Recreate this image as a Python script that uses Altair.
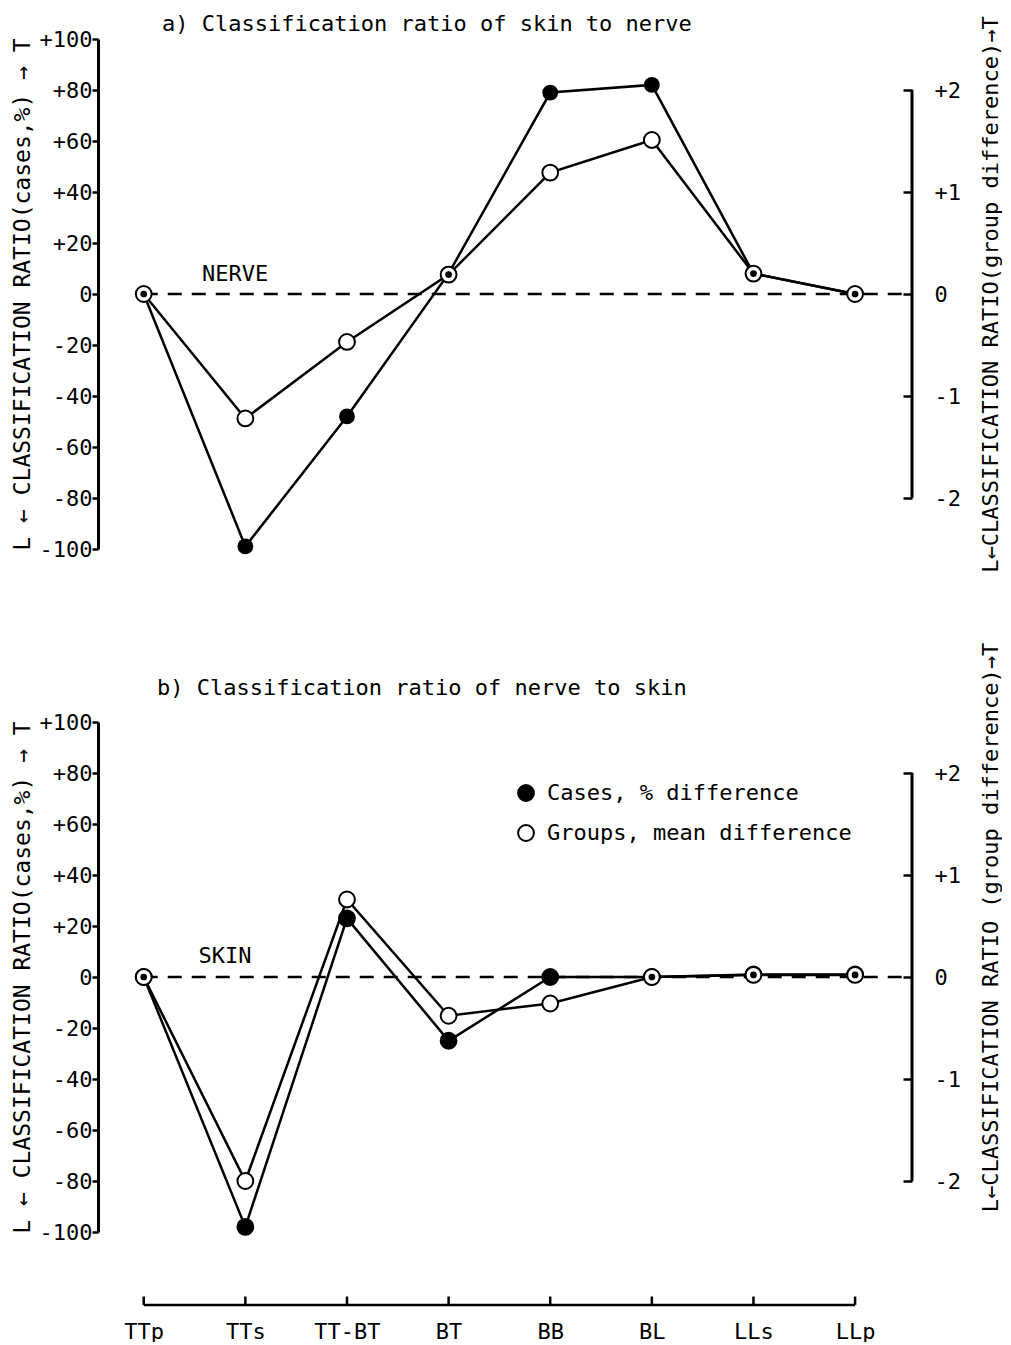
import altair as alt
import pandas as pd

# ---------------- data ----------------
categories = ["TTp", "TTs", "TT-BT", "BT", "BB", "BL", "LLs", "LLp"]

# panel a) skin to nerve
a_cases = [0, -99, -48, 8, 79, 82, 8, 0]              # % (left axis)
a_groups = [0, -1.22, -0.47, 0.19, 1.19, 1.51, 0.2, 0]  # group difference (right axis)

# panel b) nerve to skin
b_cases = [0, -98, 23, -25, 0, 0, 1, 1]
b_groups = [0, -2.0, 0.76, -0.38, -0.26, 0, 0.02, 0.02]

left_ticks = list(range(-100, 101, 20))
right_ticks = [-2, -1, 0, 1, 2]
series_names = ["Cases, % difference", "Groups, mean difference"]

# ---------------- styling ----------------
FONT = "DejaVu Sans Mono"
FS = 22
W, H = 814, 510
XMIN, XMAX = -0.45, 7.56
RATIO = 40  # percent per unit of group difference (left/right axis link)
SIGNED = "datum.value > 0 ? '+' + datum.value : (datum.value < 0 ? '-' + abs(datum.value) : '0')"
LABELS_JS = "[" + ",".join("'" + c + "'" for c in categories) + "]"
NOFRAME = alt.ViewBackground(stroke="transparent", strokeWidth=0, strokeOpacity=0)


def panel(cases, groups, title_text, title_x, title_y, ref_text, ref_x, ref_y,
          right_title, right_title_y=None, bottom=False, legend=False):
    df = pd.DataFrame({"i": list(range(len(categories))), "cases": cases, "groups": groups})
    df["coinc"] = (df["cases"] - df["groups"] * RATIO).abs() < 3
    base = alt.Chart(df)
    one = alt.Chart(pd.DataFrame({"k": [0]}))

    xs = alt.Scale(domain=[XMIN, XMAX], nice=False, zero=False)
    if bottom:
        xaxis = alt.Axis(values=list(range(len(categories))),
                         labelExpr=LABELS_JS + "[datum.value]",
                         domain=False, ticks=False, grid=False,
                         labelFont=FONT, labelFontSize=FS, labelColor="black",
                         labelPadding=0, offset=89, title=None,
                         labelFlush=False, labelOverlap=False)
    else:
        xaxis = None
    X = alt.X("i:Q", scale=xs, axis=xaxis)

    def XD(v):
        return alt.XDatum(v, type="quantitative", scale=xs, axis=xaxis)

    # left (cases, %) scale and axis
    yl = alt.Scale(domain=[-100, 100], nice=False, zero=False)
    laxis = alt.Axis(values=left_ticks, labelExpr=SIGNED, grid=False,
                     domainColor="black", domainWidth=3,
                     tickColor="black", tickWidth=2.5, tickSize=6,
                     labelFont=FONT, labelFontSize=FS, labelColor="black",
                     labelPadding=0, labelOverlap=False,
                     title="L \u2190 CLASSIFICATION RATIO(cases,%) \u2192 T",
                     titleFont=FONT, titleFontSize=23, titleFontWeight="normal",
                     titleColor="black", titlePadding=5)

    def YL(f):
        return alt.Y(f, scale=yl, axis=laxis)

    def YLD(v):
        return alt.YDatum(v, type="quantitative", scale=yl, axis=laxis)

    # right (group difference) scale and axis
    yr = alt.Scale(domain=[-100 / RATIO, 100 / RATIO], nice=False, zero=False)
    rkw = dict(orient="right", values=right_ticks, labelExpr=SIGNED, grid=False,
               domain=False, ticks=True, tickSize=9, tickWidth=2.5, tickColor="black",
               offset=-9, labelPadding=22,
               labelFont=FONT, labelFontSize=FS, labelColor="black", labelOverlap=False,
               title=right_title, titleFont=FONT, titleFontSize=FS,
               titleFontWeight="normal", titleColor="black",
               titleAngle=270, titleBaseline="top", titlePadding=20)
    if right_title_y is not None:
        rkw["titleY"] = right_title_y
    raxis = alt.Axis(**rkw)

    def YR(f):
        return alt.Y(f, scale=yr, axis=raxis)

    def YRD(v):
        return alt.YDatum(v, type="quantitative", scale=yr, axis=raxis)

    fill_scale = alt.Scale(domain=series_names, range=["black", "white"])
    leg = alt.Legend(orient="none", legendX=417, legendY=60, title=None,
                     labelFont=FONT, labelFontSize=FS, labelColor="black", labelLimit=0,
                     symbolType="circle", symbolSize=250,
                     symbolStrokeColor="black", symbolStrokeWidth=2,
                     symbolOpacity=1, rowPadding=16, labelOffset=10)

    # ---- left group ----
    zero = one.mark_rule(strokeDash=[14, 10], strokeWidth=2.5, color="black").encode(
        x=XD(0), x2=alt.X2Datum(XMAX), y=YLD(0))
    cases_line = base.mark_line(color="black", strokeWidth=2.5).encode(x=X, y=YL("cases:Q"))
    if legend:
        cases_pts = base.transform_calculate(series="'" + series_names[0] + "'").mark_circle(
            size=250, stroke="black", strokeWidth=2, opacity=1).encode(
            x=X, y=YL("cases:Q"), fill=alt.Fill("series:N", scale=fill_scale, legend=leg))
    else:
        cases_pts = base.mark_circle(size=250, color="black", opacity=1).encode(
            x=X, y=YL("cases:Q"))
    ref = one.mark_text(font=FONT, fontSize=FS, align="center", baseline="middle",
                        color="black").encode(x=XD(ref_x), y=YLD(ref_y), text=alt.value(ref_text))
    ttl = one.mark_text(font=FONT, fontSize=FS, align="left", baseline="middle",
                        color="black").encode(x=XD(title_x), y=YLD(title_y), text=alt.value(title_text))
    left_layers = [zero, cases_line, cases_pts, ref, ttl]
    if bottom:
        axis_line = one.mark_rule(strokeWidth=2.5, color="black").encode(
            x=XD(0), x2=alt.X2Datum(len(categories) - 1), y=YLD(-128.6))
        axis_ticks = base.mark_rule(strokeWidth=2.5, color="black").encode(
            x=X, y=YLD(-128.6), y2=alt.Y2Datum(-125.3))
        left_layers += [axis_line, axis_ticks]
    left = alt.layer(*left_layers)

    # ---- right group ----
    groups_line = base.mark_line(color="black", strokeWidth=2.5).encode(x=X, y=YR("groups:Q"))
    if legend:
        groups_pts = base.transform_calculate(series="'" + series_names[1] + "'").mark_circle(
            size=250, stroke="black", strokeWidth=2, opacity=1).encode(
            x=X, y=YR("groups:Q"), fill=alt.Fill("series:N", scale=fill_scale, legend=leg))
    else:
        groups_pts = base.mark_circle(size=250, fill="white", stroke="black",
                                      strokeWidth=2, opacity=1).encode(x=X, y=YR("groups:Q"))
    dots = base.transform_filter("datum.coinc").mark_circle(size=45, color="black", opacity=1).encode(
        x=X, y=YR("groups:Q"))
    bracket = one.mark_rule(strokeWidth=3, color="black").encode(
        x=XD(XMAX), y=YRD(-2), y2=alt.Y2Datum(2))
    right = alt.layer(groups_line, groups_pts, dots, bracket)

    return alt.layer(left, right).resolve_scale(y="independent").properties(
        width=W, height=H, view=NOFRAME)


pa = panel(a_cases, a_groups, "a) Classification ratio of skin to nerve", 0.18, 106,
           "NERVE", 0.9, 8,
           "L\u2190CLASSIFICATION RATIO(group difference)\u2192T")
pb = panel(b_cases, b_groups, "b) Classification ratio of nerve to skin", 0.13, 113.3,
           "SKIN", 0.8, 8.2,
           "L\u2190CLASSIFICATION RATIO (group difference)\u2192T",
           right_title_y=205, bottom=True, legend=True)

chart = alt.vconcat(pa, pb, spacing=69).resolve_scale(fill="independent").resolve_legend(
    fill="independent").properties(
    padding={"left": 3, "top": 4, "right": 0, "bottom": 0}).configure_view(
    strokeWidth=0, stroke="transparent").configure(background="white")

chart.save("out.html", embed_options={"renderer": "svg", "actions": False})
